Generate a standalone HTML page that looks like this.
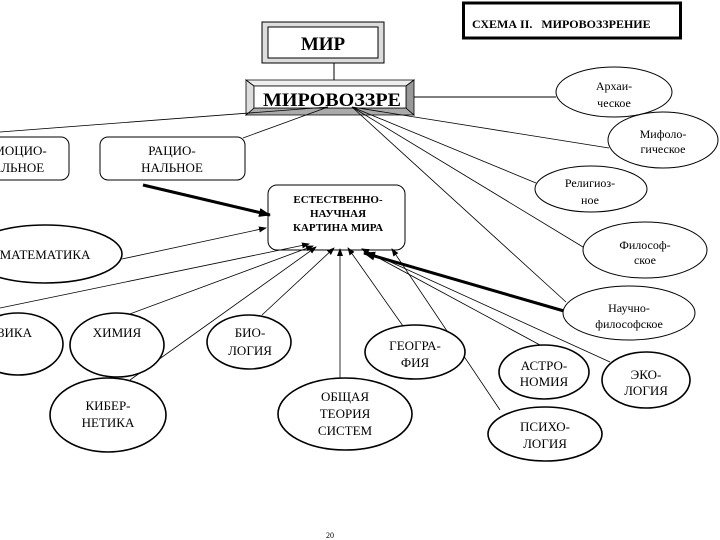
<!DOCTYPE html>
<html><head><meta charset="utf-8"><style>
html,body{margin:0;padding:0;background:#fff;}
svg{display:block;}
text{font-family:"Liberation Serif",serif;fill:#000;}
</style></head><body>
<svg width="720" height="540" viewBox="0 0 720 540" xmlns="http://www.w3.org/2000/svg">
<defs>
<marker id="a" markerWidth="8" markerHeight="6" refX="7" refY="3" orient="auto" markerUnits="userSpaceOnUse"><path d="M0,0 L8,3 L0,6 Z" fill="#000"/></marker>
<marker id="b" markerWidth="12" markerHeight="9" refX="11" refY="4.5" orient="auto" markerUnits="userSpaceOnUse"><path d="M0,0 L12,4.5 L0,9 Z" fill="#000"/></marker>
</defs>
<rect x="463.5" y="3" width="217" height="35" fill="#fff" stroke="#000" stroke-width="3"/>
<text x="472" y="28" font-size="12" font-weight="bold">СХЕМА II.&#160;&#160; МИРОВОЗЗРЕНИЕ</text>

<rect x="262" y="22" width="122" height="41" fill="#ddd" stroke="#000"/>
<rect x="268" y="27" width="110" height="31" fill="#fff" stroke="#000"/>
<text x="323" y="50" font-size="19" font-weight="bold" text-anchor="middle">МИР</text>
<line x1="334" y1="63" x2="334" y2="80" stroke="#000"/>

<polygon points="246,80 414,80 406,86 254,86" fill="#eee" stroke="#000" stroke-width="0.8"/>
<polygon points="246,115 414,115 406,108 254,108" fill="#aaa" stroke="#000" stroke-width="0.8"/>
<polygon points="414,80 414,115 406,108 406,86" fill="#999" stroke="#000" stroke-width="0.8"/>
<polygon points="246,80 246,115 254,108 254,86" fill="#ddd" stroke="#000" stroke-width="0.8"/>
<rect x="254" y="86" width="152" height="22" fill="#fff" stroke="#000" stroke-width="0.8"/>
<text x="263" y="106" font-size="19" font-weight="bold" textLength="138" lengthAdjust="spacingAndGlyphs">МИРОВОЗЗРЕ</text>
<line x1="414" y1="97" x2="556" y2="97" stroke="#000"/>

<g stroke="#000" stroke-width="0.8" fill="none">
<line x1="328" y1="107" x2="0" y2="132"/>
<line x1="328" y1="107" x2="243" y2="138"/>
<line x1="352" y1="107" x2="609" y2="148"/>
<line x1="352" y1="107" x2="536" y2="183"/>
<line x1="352" y1="107" x2="583" y2="247"/>
<line x1="352" y1="107" x2="566" y2="302"/>
</g>

<rect x="-12" y="137" width="81" height="43" rx="8" fill="#fff" stroke="#000"/>
<text x="20" y="155" font-size="13" text-anchor="middle">МОЦИО-</text>
<text x="18" y="172" font-size="13" text-anchor="middle">АЛЬНОЕ</text>
<rect x="100" y="137" width="145" height="43" rx="8" fill="#fff" stroke="#000"/>
<text x="172" y="155" font-size="13" text-anchor="middle">РАЦИО-</text>
<text x="172" y="172" font-size="13" text-anchor="middle">НАЛЬНОЕ</text>

<rect x="268" y="185" width="137" height="65" rx="9" fill="#fff" stroke="#000"/>
<text x="338" y="203" font-size="11" font-weight="bold" text-anchor="middle">ЕСТЕСТВЕННО-</text>
<text x="338" y="217" font-size="11" font-weight="bold" text-anchor="middle">НАУЧНАЯ</text>
<text x="338" y="231" font-size="11" font-weight="bold" text-anchor="middle">КАРТИНА МИРА</text>

<g stroke="#000" stroke-width="0.8" fill="none" marker-end="url(#a)">
<line x1="122" y1="259" x2="266" y2="228"/>
<line x1="0" y1="308" x2="309" y2="244"/>
<line x1="127" y1="315" x2="313" y2="246"/>
<line x1="130" y1="380" x2="316" y2="247"/>
<line x1="262" y1="315" x2="334" y2="248"/>
<line x1="340" y1="378" x2="340" y2="249"/>
<line x1="403" y1="326" x2="348" y2="248"/>
<line x1="500" y1="410" x2="392" y2="249"/>
<line x1="540" y1="345" x2="362" y2="249"/>
<line x1="610" y1="362" x2="362" y2="249"/>
</g>
<line x1="143" y1="185" x2="270" y2="215" stroke="#000" stroke-width="3" marker-end="url(#b)"/>
<line x1="564" y1="311" x2="364" y2="253" stroke="#000" stroke-width="3" marker-end="url(#b)"/>

<g fill="#fff" stroke="#000" stroke-width="1">
<ellipse cx="614" cy="92" rx="58" ry="25"/>
<ellipse cx="663" cy="140" rx="55" ry="28"/>
<ellipse cx="591" cy="189" rx="56" ry="23"/>
<ellipse cx="645" cy="250" rx="62" ry="28"/>
<ellipse cx="629" cy="313" rx="66" ry="27"/>
</g>
<g font-size="12" text-anchor="middle">
<text x="614" y="90">Архаи-</text><text x="614" y="107">ческое</text>
<text x="663" y="138">Мифоло-</text><text x="663" y="153">гическое</text>
<text x="590" y="187">Религиоз-</text><text x="590" y="204">ное</text>
<text x="645" y="249">Философ-</text><text x="645" y="264">ское</text>
<text x="629" y="312">Научно-</text><text x="629" y="328">философское</text>
</g>

<g fill="#fff" stroke="#000" stroke-width="1.6">
<ellipse cx="45" cy="254" rx="77" ry="29"/>
<ellipse cx="18" cy="344" rx="45" ry="31"/>
<ellipse cx="117" cy="345" rx="47" ry="32"/>
<ellipse cx="108" cy="415" rx="58" ry="37"/>
<ellipse cx="249" cy="342" rx="42" ry="27"/>
<ellipse cx="345" cy="414" rx="67" ry="36"/>
<ellipse cx="415" cy="352" rx="50" ry="27"/>
<ellipse cx="544" cy="372" rx="45" ry="27"/>
<ellipse cx="646" cy="380" rx="44" ry="28"/>
<ellipse cx="545" cy="434" rx="57" ry="27"/>
</g>
<g font-size="13" text-anchor="middle">
<text x="45" y="259">МАТЕМАТИКА</text>
<text x="15" y="337">ЗИКА</text>
<text x="117" y="337">ХИМИЯ</text>
<text x="108" y="410">КИБЕР-</text><text x="108" y="427">НЕТИКА</text>
<text x="250" y="337">БИО-</text><text x="250" y="355">ЛОГИЯ</text>
<text x="345" y="401">ОБЩАЯ</text><text x="345" y="418">ТЕОРИЯ</text><text x="345" y="435">СИСТЕМ</text>
<text x="415" y="350">ГЕОГРА-</text><text x="415" y="367">ФИЯ</text>
<text x="544" y="370">АСТРО-</text><text x="544" y="386">НОМИЯ</text>
<text x="646" y="379">ЭКО-</text><text x="646" y="395">ЛОГИЯ</text>
<text x="545" y="431">ПСИХО-</text><text x="545" y="448">ЛОГИЯ</text>
</g>
<text x="330" y="538" font-size="8" text-anchor="middle">20</text>
</svg>
</body></html>
